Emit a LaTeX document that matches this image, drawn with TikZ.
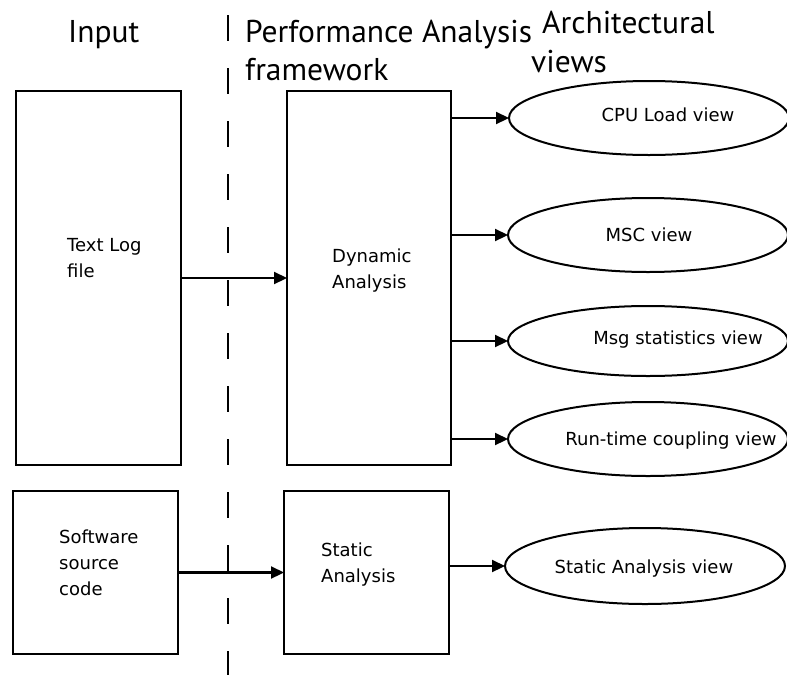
\documentclass[tikz,border=0pt]{standalone}
\usepackage{fontspec}
\setmainfont{DejaVu Sans}
\newfontfamily\headfont{PT Sans}
\usetikzlibrary{shapes.geometric,arrows.meta}
\begin{document}
\begin{tikzpicture}[x=1pt,y=-1pt,
  box/.style={draw,line width=2pt,inner sep=0,outer sep=0,anchor=north west},
  oval/.style={draw,ellipse,line width=2pt,inner sep=0,outer sep=0,minimum width=280,minimum height=74},
  arr/.style={-{Triangle[length=13pt,width=12pt]},line width=2.2pt},
  lbl/.style={font=\fontsize{18}{26}\selectfont,align=left,inner sep=0,anchor=west},
  vlbl/.style={font=\fontsize{18}{22}\selectfont,inner sep=0},
  head/.style={font=\headfont\fontsize{31.5}{38}\selectfont,inner sep=0,anchor=base west}]
\useasboundingbox (0,0) rectangle (787,675);
% headers
\node[head] (hin) at (68,42) {Input};
\node[head] (hpa1) at (245,42) {Performance Analysis};
\node[head] (hpa2) at (245,80) {framework};
\node[head] (hav1) at (542,33) {Architectural};
\node[head] (hav2) at (531,72) {views};
% dashed separator
\coordinate (dtop) at (228,15);
\coordinate (dbot) at (228,675);
\draw[line width=2pt,dash pattern=on 26pt off 27pt] (dtop) -- (dbot);
% boxes
\node[box,minimum width=165,minimum height=374] (tl) at (16,91) {};
\node[box,minimum width=164,minimum height=374] (dyn) at (287,91) {};
\node[box,minimum width=165,minimum height=163] (sw) at (13,491) {};
\node[box,minimum width=165,minimum height=163] (sa) at (284,491) {};
\node[lbl] (tltext) at (67,258) {Text Log\\file};
\node[lbl] (dyntext) at (332,271) {Dynamic\\Analysis};
\node[lbl] (swtext) at (59,563) {Software\\source\\code};
\node[lbl] (satext) at (321,565) {Static\\Analysis};
% ellipses
\node[oval] (e1) at (649,118) {};
\node[oval] (e2) at (648,235) {};
\node[oval,minimum height=70] (e3) at (648,341) {};
\node[oval] (e4) at (648,439) {};
\node[oval,minimum height=76] (e5) at (645,566) {};
\node[vlbl] (t1) at (668,115) {CPU Load view};
\node[vlbl] (t2) at (649,235) {MSC view};
\node[vlbl] (t3) at (678,340) {Msg statistics view};
\node[vlbl] (t4) at (671,441) {Run-time coupling view};
\node[vlbl] (t5) at (644,569) {Static Analysis view};
% connectors
\draw[arr] (tl.east) -- (dyn.west);
\draw[arr] (sw.east) -- (sa.west);
\draw[arr] (dyn.east |- e1.west) -- (e1.west);
\draw[arr] (dyn.east |- e2.west) -- (e2.west);
\draw[arr] (dyn.east |- e3.west) -- (e3.west);
\draw[arr] (dyn.east |- e4.west) -- (e4.west);
\draw[arr] (sa.east |- e5.west) -- (e5.west);
\end{tikzpicture}
\end{document}
